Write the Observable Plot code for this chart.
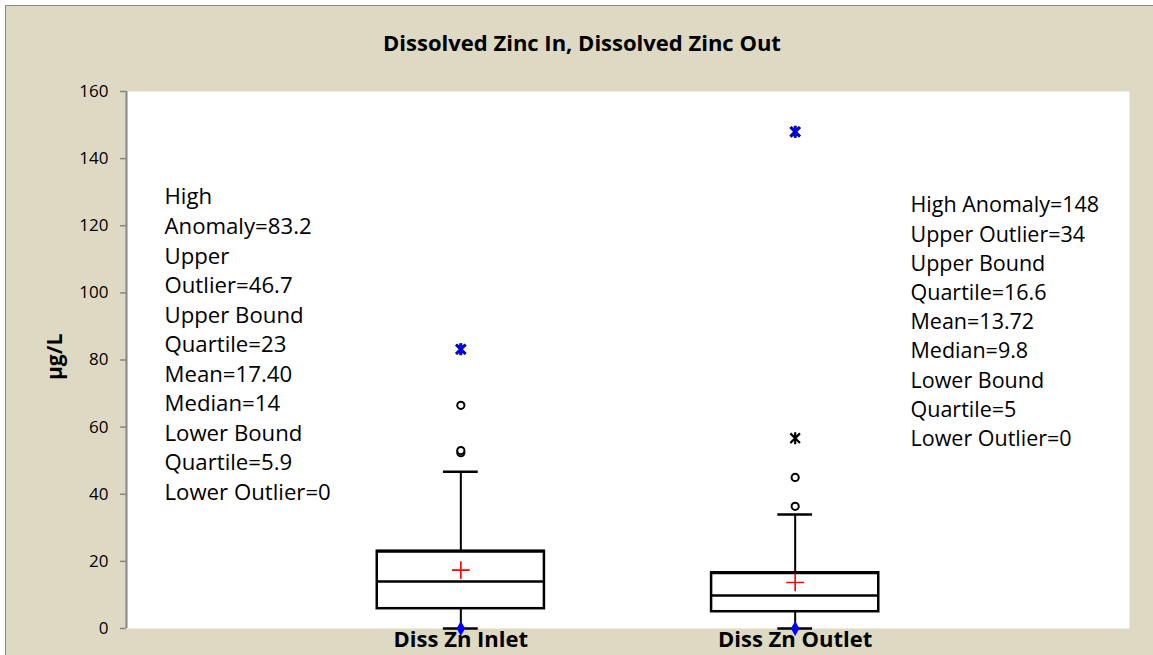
<!DOCTYPE html>
<html>
<head>
<meta charset="utf-8">
<script src="https://cdn.jsdelivr.net/npm/d3@7"></script>
<script src="https://cdn.jsdelivr.net/npm/@observablehq/plot@0.6"></script>
<style>
  html, body { margin: 0; padding: 0; background: #ffffff; overflow: hidden; }
  #frame { position: absolute; left: 5px; top: 5px; width: 1160px; height: 670px; border-left: 1px solid #8a8a8a; border-top: 1px solid #8a8a8a; background: #ddd9c3; }
  #chart { position: absolute; left: 6px; top: 6px; }
</style>
</head>
<body>
<div id="frame"></div>
<div id="chart"></div>
<script>
const categories = ["Diss Zn Inlet", "Diss Zn Outlet"];
const lowWhisker = [0, 0];
const q1 = [5.9, 5];
const median = [14, 9.8];
const q3 = [23, 16.6];
const highWhisker = [46.7, 34];
const mean = [17.40, 13.72];
const inletOutliers = [52.4, 53.0, 66.5];
const outletOutliers = [36.4, 45.0];
const outletExtremes = [56.7];
const highAnomaly = [83.2, 148];
const lowOutlier = [0, 0];
const yTicks = [0, 20, 40, 60, 80, 100, 120, 140, 160];
const title = "Dissolved Zinc In, Dissolved Zinc Out";
const yLabel = "µg/L";
const inletNotes = ["High", "Anomaly=83.2", "Upper", "Outlier=46.7", "Upper Bound", "Quartile=23", "Mean=17.40", "Median=14", "Lower Bound", "Quartile=5.9", "Lower Outlier=0"];
const outletNotes = ["High Anomaly=148", "Upper Outlier=34", "Upper Bound", "Quartile=16.6", "Mean=13.72", "Median=9.8", "Lower Bound", "Quartile=5", "Lower Outlier=0"];

const boxes = categories.map((c, i) => ({
  cat: c, x: i + 1, lo: lowWhisker[i], q1: q1[i], med: median[i], q3: q3[i], hi: highWhisker[i], mean: mean[i]
}));
const circles = [
  ...inletOutliers.map(v => ({x: 1, v})),
  ...outletOutliers.map(v => ({x: 2, v}))
];
const extremes = outletExtremes.map(v => ({x: 2, v}));
const anomalies = highAnomaly.map((v, i) => ({x: i + 1, v}));
const lows = lowOutlier.map((v, i) => ({x: i + 1, v}));

const half = 0.25, cap = 0.052;
const font = "Open Sans";

// X with a vertical bar, like the spreadsheet's star marker
const starMarker = {
  draw(context, size) {
    const r = Math.sqrt(size / Math.PI);
    const a = r * 0.8;
    context.moveTo(-a, -a); context.lineTo(a, a);
    context.moveTo(-a, a); context.lineTo(a, -a);
    context.moveTo(0, -r); context.lineTo(0, r);
  }
};

const chart = Plot.plot({
  width: 1147,
  height: 649,
  marginLeft: 120,
  marginTop: 85,
  marginRight: 24,
  marginBottom: 27,
  style: {background: "#ddd9c3", fontFamily: font, overflow: "visible"},
  x: {domain: [0, 3], axis: null},
  y: {domain: [0, 160], axis: null},
  marks: [
    Plot.frame({fill: "white", stroke: null}),
    Plot.axisY({ticks: yTicks, tickSize: 6, tickPadding: 12, stroke: "#868686", strokeWidth: 1.5, fill: "black", fontSize: 17, tickFormat: d => d}),
    Plot.ruleX([0], {stroke: "#868686", strokeWidth: 2}),
    // whiskers
    Plot.ruleX(boxes, {x: "x", y1: "q3", y2: "hi", stroke: "black", strokeWidth: 2}),
    Plot.ruleX(boxes, {x: "x", y1: "lo", y2: "q1", stroke: "black", strokeWidth: 2}),
    Plot.ruleY(boxes, {y: "hi", x1: d => d.x - cap, x2: d => d.x + cap, stroke: "black", strokeWidth: 2.5}),
    Plot.ruleY(boxes, {y: "lo", x1: d => d.x - cap, x2: d => d.x + cap, stroke: "black", strokeWidth: 2.5}),
    // boxes
    Plot.rect(boxes, {x1: d => d.x - half, x2: d => d.x + half, y1: "q1", y2: "q3", fill: "white", stroke: "black", strokeWidth: 2.5}),
    Plot.ruleY(boxes, {y: "med", x1: d => d.x - half, x2: d => d.x + half, stroke: "black", strokeWidth: 2.5}),
    Plot.ruleY(boxes, {y: "q3", x1: d => d.x - half, x2: d => d.x + half, stroke: "black", strokeWidth: 3}),
    // mean
    Plot.dot(boxes, {x: "x", y: "mean", symbol: "plus", r: 5.8, stroke: "red", strokeWidth: 1.6}),
    // outliers
    Plot.dot(circles, {x: "x", y: "v", symbol: "circle", r: 3.6, fill: "white", stroke: "black", strokeWidth: 2}),
    Plot.dot(extremes, {x: "x", y: "v", symbol: starMarker, r: 6, stroke: "black", strokeWidth: 2.2}),
    Plot.dot(anomalies, {x: "x", y: "v", symbol: starMarker, r: 6, stroke: "black", strokeWidth: 3}),
    Plot.dot(anomalies, {x: "x", y: "v", symbol: starMarker, r: 5.5, stroke: "blue", strokeWidth: 2.2}),
    Plot.dot(lows, {x: "x", y: "v", symbol: "diamond", r: 4.5, fill: "blue", stroke: null}),
    // category labels
    Plot.text(boxes, {x: "x", y: "lo", text: "cat", dy: 11, fontSize: 22, fontWeight: "bold", fill: "black", lineAnchor: "middle"}),
    // notes
    Plot.text([inletNotes.join("\n")], {frameAnchor: "top-left", dx: 38, dy: 92, textAnchor: "start", lineAnchor: "top", fontSize: 22.2, lineHeight: 1.33, fill: "black"}),
    Plot.text([outletNotes.join("\n")], {frameAnchor: "top-left", dx: 784, dy: 100, textAnchor: "start", lineAnchor: "top", fontSize: 21.5, lineHeight: 1.36, fill: "black"}),
    // title
    Plot.text([title], {frameAnchor: "top", dx: -46, dy: -48, fontSize: 22, fontWeight: "bold", fill: "black", lineAnchor: "middle"}),
    // y label
    Plot.text([yLabel], {frameAnchor: "left", dx: -71, dy: 20, rotate: -90, fontSize: 21, fontWeight: "bold", fill: "black", lineAnchor: "middle"})
  ]
});
document.getElementById("chart").appendChild(chart);
</script>
</body>
</html>
